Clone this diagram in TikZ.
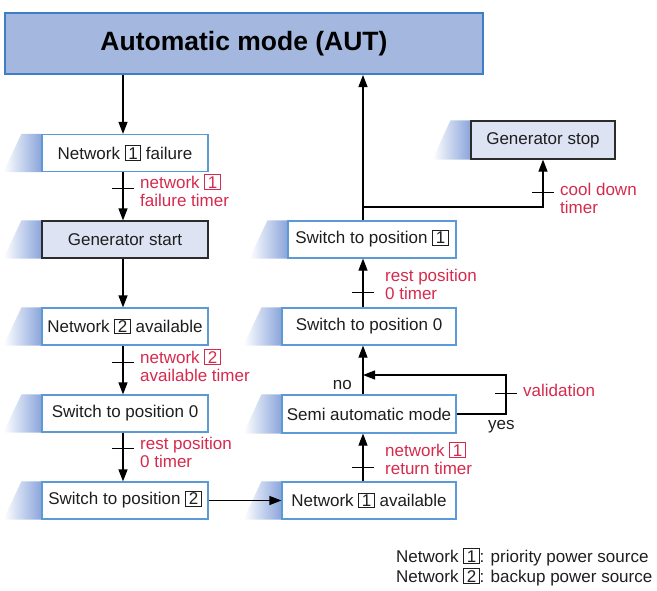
\documentclass[tikz,border=0pt]{standalone}
\usepackage{fontspec}
\setmainfont{Liberation Sans}
\usetikzlibrary{arrows.meta,calc,backgrounds}
\definecolor{titlefill}{HTML}{A4B8DF}
\definecolor{titledraw}{HTML}{3D7EC6}
\definecolor{boxdraw}{HTML}{5C9AD6}
\definecolor{genfill}{HTML}{DDE3F3}
\definecolor{gendraw}{HTML}{2B2B2B}
\definecolor{timerred}{HTML}{D62A4C}
\definecolor{shb}{HTML}{8AA5DB}
\definecolor{inktext}{HTML}{1E1E1E}
\newcommand\bx[1]{\raisebox{0pt}[11pt][0pt]{\setlength\fboxsep{0pt}\setlength\fboxrule{0.9pt}\fbox{\rule[-0.8pt]{0pt}{13.5pt}\kern2.6pt#1\kern2.6pt}}}
\newcommand\boxshadow[1]{\shade[left color=white,right color=shb] ($(#1.north west)+(-20,0)$) -- (#1.north west) -- (#1.south west) -- ($(#1.south west)+(-38,0)$) -- cycle;}
\tikzset{
  statebox/.style={draw=boxdraw, line width=1.2pt, fill=white, minimum height=37pt, inner sep=0pt, text=inktext, font=\fontsize{17}{18}\selectfont},
  genbox/.style={statebox, draw=gendraw, fill=genfill},
  titlebox/.style={draw=titledraw, line width=2pt, fill=titlefill, inner sep=0pt, text=black, font=\fontsize{26.5}{30}\selectfont\bfseries},
  arr/.style={line width=1.2pt, -{Triangle[length=12pt,width=9pt]}},
  tickmark/.style={line width=1pt},
  timer/.style={text=timerred, anchor=base west, inner sep=0pt, font=\fontsize{17}{18}\selectfont},
  plain/.style={text=inktext, inner sep=0pt, font=\fontsize{17}{18}\selectfont},
  legend/.style={text=inktext, anchor=base west, inner sep=0pt, font=\fontsize{17}{21}\selectfont},
}
\begin{document}
\begin{tikzpicture}[x=1pt,y=-1pt]
\useasboundingbox (0,0) rectangle (657,590);
\coordinate (lx) at (123,0);
\coordinate (rx) at (363,0);
\coordinate (brk) at (363,207);
\coordinate (vc) at (506,375);
\coordinate (loopend) at (363,375);

\node[titlebox, minimum width=478pt, minimum height=61pt] (aut) at (244,43.5) {Automatic mode (AUT)};

\node[statebox, minimum width=166pt] (n1f) at (125,153) {Network \bx{1} failure};
\node[genbox, minimum width=166pt] (gs) at (125,239.5) {Generator start};
\node[statebox, minimum width=166pt] (n2a) at (125,326.5) {Network \bx{2} available};
\node[statebox, minimum width=166pt] (s0l) at (125,413.5) {Switch to position 0};
\node[statebox, minimum width=166pt] (s2) at (125,500.5) {Switch to position \bx{2}};

\node[statebox, minimum width=168pt] (s1) at (372,239.5) {Switch to position \bx{1}};
\node[statebox, minimum width=174pt] (s0r) at (369,326.5) {Switch to position 0};
\node[statebox, minimum width=174pt, minimum height=38pt] (semi) at (369,414) {Semi automatic mode};
\node[statebox, minimum width=174pt] (n1a) at (369,500.5) {Network \bx{1} available};

\node[genbox, minimum width=144pt, minimum height=38pt] (gstop) at (543,140) {Generator stop};

\begin{scope}[on background layer]
\boxshadow{n1f}
\boxshadow{gs}
\boxshadow{n2a}
\boxshadow{s0l}
\boxshadow{s2}
\boxshadow{s1}
\boxshadow{s0r}
\boxshadow{semi}
\boxshadow{n1a}
\boxshadow{gstop}
\end{scope}

% left column
\draw[arr] (aut.south -| lx) -- (n1f.north -| lx);
\draw[arr] (n1f.south -| lx) -- (gs.north -| lx);
\draw[arr] (gs.south -| lx) -- (n2a.north -| lx);
\draw[arr] (n2a.south -| lx) -- (s0l.north -| lx);
\draw[arr] (s0l.south -| lx) -- (s2.north -| lx);
\draw[arr] (s2.east) -- (n1a.west);
% right column
\draw[arr] (n1a.north -| rx) -- (semi.south -| rx);
\draw[arr] (semi.north -| rx) -- (s0r.south -| rx);
\draw[arr] (s0r.north -| rx) -- (s1.south -| rx);
\draw[arr] (s1.north -| rx) -- (aut.south -| rx);
\draw[arr] (brk) -| (gstop.south);
\draw[arr] (semi.east) -| (vc) -- (loopend);

% timer ticks
\draw[tickmark] (112,188) -- (134,188);
\draw[tickmark] (112,362) -- (134,362);
\draw[tickmark] (112,448) -- (134,448);
\draw[tickmark] (352,467) -- (374,467);
\draw[tickmark] (352,292) -- (374,292);
\draw[tickmark] (532,192) -- (554,192);
\draw[tickmark] (495,393) -- (517,393);

% timer labels
\node[timer] (t1) at (140,188) {\begin{tabular}[t]{@{}l@{}}network \bx{1}\\failure timer\end{tabular}};
\node[timer] (t2) at (140,363) {\begin{tabular}[t]{@{}l@{}}network \bx{2}\\available timer\end{tabular}};
\node[timer] (t3) at (140,449) {\begin{tabular}[t]{@{}l@{}}rest position\\0 timer\end{tabular}};
\node[timer] (t4) at (385,456) {\begin{tabular}[t]{@{}l@{}}network \bx{1}\\return timer\end{tabular}};
\node[timer] (t5) at (385,281) {\begin{tabular}[t]{@{}l@{}}rest position\\0 timer\end{tabular}};
\node[timer] (t6) at (560,195) {\begin{tabular}[t]{@{}l@{}}cool down\\timer\end{tabular}};
\node[timer] (t7) at (523,396) {validation};

\node[plain, anchor=base east] (no) at (352,389) {no};
\node[plain, anchor=base west] (yes) at (488,429) {yes};

% legend
\node[legend] (lg1) at (396,562) {Network \bx{1}: priority power source};
\node[legend] (lg2) at (396,582) {Network \bx{2}: backup power source};
\end{tikzpicture}
\end{document}
